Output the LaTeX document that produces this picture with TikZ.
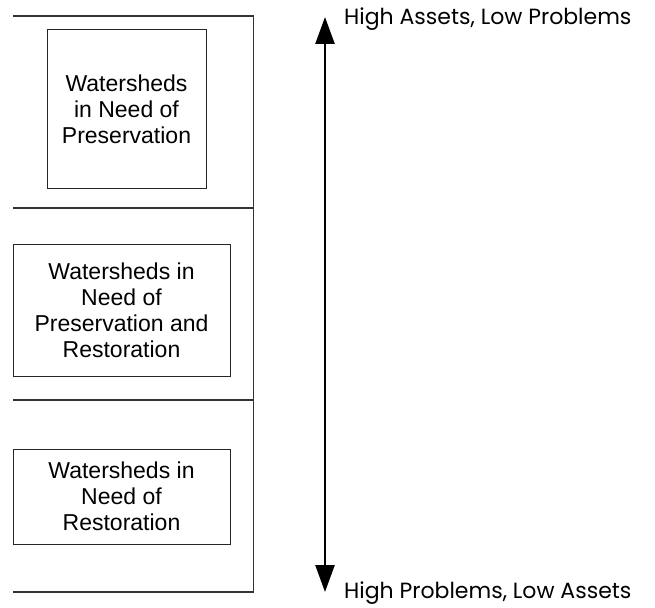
\documentclass[tikz,border=0pt]{standalone}
\usepackage{fontspec}
\setmainfont{Liberation Sans}
\newfontfamily\gothicfont{Poppins}
\usepackage{tikz}
\usetikzlibrary{arrows.meta,positioning}
\tikzset{
  every picture/.append style={line cap=butt,line join=miter},
  ws frame/.style={black!80,line width=1.2pt},
  ws box/.style={draw,black!85,line width=1pt,align=center,inner sep=0pt,
    font=\fontsize{23}{26}\selectfont,text=black},
  ws axis/.style={line width=2.6pt,{Triangle[length=27pt,width=19pt]}-{Triangle[length=27pt,width=19pt]}},
  ws note/.style={anchor=base west,inner sep=0pt,font=\gothicfont\fontsize{22}{26}\selectfont}
}
\begin{document}
\begin{tikzpicture}[x=1pt,y=-1pt]
  \useasboundingbox (0,0) rectangle (655,607);
  % frame and bands
  \draw[ws frame] (13,16) -- (253.5,16) -- (253.5,592) -- (13,592);
  \foreach \yy in {208,400} {
    \draw[ws frame] (13,\yy) -- (253.5,\yy);
  }
  % the three categories
  \node[ws box,minimum width=159pt,minimum height=158pt] (pres) at (126.5,109)
    {Watersheds\\in Need of\\Preservation};
  \node[ws box,minimum width=217pt,minimum height=132pt] (presrest) at (121.5,310)
    {Watersheds in\\Need of\\Preservation and\\Restoration};
  \node[ws box,minimum width=217pt,minimum height=95pt] (rest) at (121.5,496.5)
    {Watersheds in\\Need of\\Restoration};
  % scale arrow
  \coordinate (top) at (325,17);
  \coordinate (bottom) at (325,592);
  \draw[ws axis] (bottom) -- (top);
  \node[ws note] (hi) at (344,25) {High Assets, Low Problems};
  \node[ws note] (lo) at (344,598) {High Problems, Low Assets};
\end{tikzpicture}
\end{document}
